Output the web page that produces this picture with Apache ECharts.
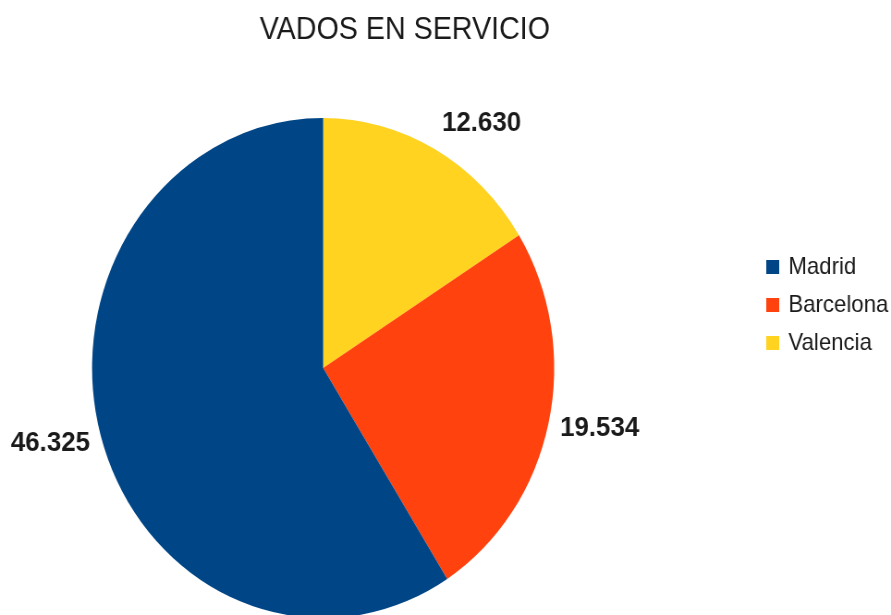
<!DOCTYPE html>
<html>
<head>
<meta charset="utf-8">
<script src="https://cdn.jsdelivr.net/npm/echarts@6/dist/echarts.min.js"></script>
<style>
  html, body { margin: 0; padding: 0; background: #fff; overflow: hidden; }
  /* the source picture is squeezed horizontally, so the chart is drawn wider and scaled back */
  #chart { width: 964px; height: 615px; transform: scaleX(0.9243); transform-origin: 0 0; }
</style>
</head>
<body>
<div id="chart"></div>
<script>
// ---------------------------------------------------------------------------
// Data
// ---------------------------------------------------------------------------
const TITLE = 'VADOS EN SERVICIO'

// pie order, clockwise from 12 o'clock
const cities = ['Valencia', 'Barcelona', 'Madrid']
const vados = [12630, 19534, 46325]
const colors = ['#ffd320', '#ff420e', '#004586']

// legend order
const legendOrder = ['Madrid', 'Barcelona', 'Valencia']

// label line tweaks per slice (length, length2)
const labelLines = [[30, -12], [22, -14], [20, -12]]

const FONT = '"Liberation Sans", Arial, sans-serif'

// Spanish thousands separator: 12630 -> 12.630
const fmt = (v) => String(v).replace(/\B(?=(\d{3})+(?!\d))/g, '.')

// ---------------------------------------------------------------------------
// Chart
// ---------------------------------------------------------------------------
const chart = echarts.init(document.getElementById('chart'), null, { renderer: 'canvas' })

chart.setOption({
  animation: false,
  backgroundColor: '#ffffff',
  title: {
    text: TITLE,
    left: 433,
    top: 10,
    textAlign: 'center',
    textStyle: { fontFamily: FONT, fontSize: 31, fontWeight: 'normal', color: '#1a1a1a' },
  },
  legend: {
    data: legendOrder,
    orient: 'vertical',
    left: 829,
    top: 255,
    padding: 0,
    icon: 'rect',
    itemWidth: 14,
    itemHeight: 14,
    itemGap: 14,
    textStyle: {
      fontFamily: FONT,
      fontSize: 24,
      lineHeight: 24,
      color: '#1a1a1a',
      padding: [0, 0, 0, 5],
    },
  },
  series: [{
    type: 'pie',
    center: [349.6, 368],
    radius: 250,
    startAngle: 90,
    clockwise: true,
    avoidLabelOverlap: false,
    itemStyle: { borderWidth: 0 },
    label: {
      show: true,
      position: 'outside',
      bleedMargin: 0,
      formatter: (p) => fmt(p.value),
      fontFamily: FONT,
      fontSize: 28,
      fontWeight: 'bold',
      color: '#1a1a1a',
    },
    labelLine: { show: false },
    emphasis: { disabled: true },
    data: cities.map((name, i) => ({
      name,
      value: vados[i],
      itemStyle: { color: colors[i] },
      labelLine: { show: false, length: labelLines[i][0], length2: labelLines[i][1] },
    })),
  }],
})
</script>
</body>
</html>
